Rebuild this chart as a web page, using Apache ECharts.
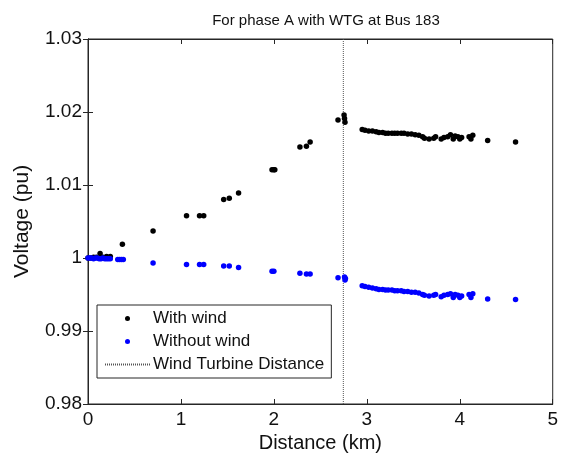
<!DOCTYPE html>
<html>
<head>
<meta charset="utf-8">
<script src="https://cdn.jsdelivr.net/npm/echarts@6/dist/echarts.min.js"></script>
<style>html,body{margin:0;padding:0;background:#fff}#c{width:561px;height:459px}</style>
</head>
<body>
<div id="c"></div>
<script>
var titleText = 'For phase A with WTG at Bus 183';
var xTicks = [0, 1, 2, 3, 4, 5];
var yTicks = [0.98, 0.99, 1, 1.01, 1.02, 1.03];
var turbineDistance = 2.747;

var withWindDist = [0, 0.03, 0.06, 0.09, 0.13, 0.16, 0.2, 0.24, 0.37,
  0.70, 1.06, 1.20, 1.245, 1.46, 1.52, 1.62, 1.98, 2.0, 2.01,
  2.28, 2.35, 2.39, 2.69, 2.755, 2.76, 2.765,
  2.95, 2.98, 3.02, 3.06, 3.10, 3.13, 3.17, 3.20, 3.23, 3.27, 3.30, 3.33, 3.37, 3.40, 3.44, 3.48, 3.52, 3.56,
  3.60, 3.62, 3.67, 3.72, 3.74, 3.80, 3.83, 3.87, 3.90, 3.93, 3.95, 3.98, 4.00, 4.02, 4.10, 4.12, 4.14,
  4.30, 4.60];
var withWindV = [1.0000, 1.0000, 1.0001, 1.0001, 1.0006, 1.0001, 1.0002, 1.0002, 1.0019,
  1.0037, 1.0058, 1.0058, 1.0058, 1.0080, 1.0082, 1.0089, 1.0121, 1.0121, 1.0121,
  1.0152, 1.0153, 1.0159, 1.0189, 1.0196, 1.0191, 1.0186,
  1.0176, 1.0175, 1.0174, 1.0174, 1.0173, 1.0172, 1.0172, 1.0171, 1.0171, 1.0171, 1.0171, 1.0171, 1.0171, 1.0171, 1.0170, 1.0170, 1.0169, 1.0168,
  1.0166, 1.0164, 1.0163, 1.0164, 1.0166, 1.0163, 1.0165, 1.0166, 1.0169, 1.0163, 1.0167, 1.0166, 1.0163, 1.0165, 1.0166, 1.0163, 1.0168,
  1.0161, 1.0159];

var withoutWindDist = [0, 0.02, 0.04, 0.06, 0.08, 0.10, 0.12, 0.14, 0.16, 0.18, 0.20, 0.22, 0.24, 0.32, 0.34, 0.36, 0.38,
  0.70, 1.06, 1.20, 1.245, 1.46, 1.52, 1.62, 1.98, 2.0,
  2.28, 2.35, 2.39, 2.69, 2.76, 2.77, 2.765,
  2.95, 2.98, 3.02, 3.06, 3.10, 3.13, 3.17, 3.20, 3.23, 3.27, 3.30, 3.33, 3.37, 3.40, 3.44, 3.48, 3.52, 3.56,
  3.60, 3.62, 3.67, 3.72, 3.74, 3.80, 3.83, 3.87, 3.90, 3.93, 3.95, 3.98, 4.00, 4.02, 4.10, 4.12, 4.14,
  4.30, 4.60];
var withoutWindV = [1.0000, 1.0000, 1.0000, 0.9999, 1.0000, 1.0000, 0.9999, 0.9999, 1.0000, 0.9999, 0.9999, 0.9999, 0.9999, 0.9998, 0.9998, 0.9998, 0.9998,
  0.9993, 0.9991, 0.9991, 0.9991, 0.9989, 0.9989, 0.9987, 0.9982, 0.9982,
  0.9979, 0.9978, 0.9978, 0.9973, 0.9974, 0.9972, 0.9970,
  0.9962, 0.9961, 0.9960, 0.9959, 0.9958, 0.9957, 0.9957, 0.9956, 0.9956, 0.9956, 0.9955, 0.9955, 0.9955, 0.9954, 0.9954, 0.9953, 0.9953, 0.9952,
  0.9950, 0.9949, 0.9948, 0.9949, 0.9950, 0.9947, 0.9949, 0.9950, 0.9951, 0.9946, 0.9950, 0.9949, 0.9946, 0.9948, 0.9950, 0.9946, 0.9951,
  0.9944, 0.9943];

function zip(a, b) { return a.map(function (v, i) { return [v, b[i]]; }); }

var FONT = 'Liberation Sans';
var chart = echarts.init(document.getElementById('c'), null, {renderer: 'canvas'});
var yFmt = function (v) { return String(+v.toFixed(2)); };
var commonAxisLine = {lineStyle: {color: '#262626', width: 1}};
var option = {
  animation: false,
  backgroundColor: '#fff',
  title: {
    text: titleText, left: 321, top: 8, textAlign: 'center',
    textStyle: {fontFamily: FONT, fontSize: 15, fontWeight: 'normal', color: '#111'}
  },
  grid: {left: 88, right: 7, top: 39, bottom: 55, show: true, borderColor: '#262626', borderWidth: 1, backgroundColor: '#fff'},
  legend: {
    orient: 'vertical', left: 97, top: 305,
    backgroundColor: '#fff', borderColor: '#262626', borderWidth: 1, borderRadius: 0,
    padding: [5, 7, 5, 7], itemWidth: 45, itemHeight: 5, itemGap: 6,
    textStyle: {fontFamily: FONT, fontSize: 17, color: '#111', padding: [0, 0, 0, -2]},
    data: [
      {name: 'With wind', icon: 'circle'},
      {name: 'Without wind', icon: 'circle'},
      {name: 'Wind Turbine Distance', itemStyle: {opacity: 0}}
    ]
  },
  xAxis: [{
    type: 'value', min: xTicks[0], max: xTicks[xTicks.length - 1], interval: 1,
    name: 'Distance (km)', nameLocation: 'middle', nameGap: 25,
    nameTextStyle: {fontFamily: FONT, fontSize: 20, color: '#111'},
    axisLine: commonAxisLine, axisTick: {inside: true, length: 5, lineStyle: {color: '#262626'}},
    axisLabel: {fontFamily: FONT, fontSize: 19, color: '#111', margin: 6},
    splitLine: {show: false}
  }, {
    type: 'value', position: 'top', min: xTicks[0], max: xTicks[xTicks.length - 1], interval: 1,
    axisLine: commonAxisLine, axisTick: {inside: true, length: 5, lineStyle: {color: '#262626'}},
    axisLabel: {show: false}, splitLine: {show: false}
  }],
  yAxis: [{
    type: 'value', min: yTicks[0], max: yTicks[yTicks.length - 1], interval: 0.01,
    name: 'Voltage (pu)', nameLocation: 'middle', nameGap: 55, nameRotate: 90,
    nameTextStyle: {fontFamily: FONT, fontSize: 21, color: '#111'},
    axisLine: commonAxisLine, axisTick: {inside: true, length: 5, lineStyle: {color: '#262626'}},
    axisLabel: {fontFamily: FONT, fontSize: 19, color: '#111', margin: 6, formatter: yFmt},
    splitLine: {show: false}
  }, {
    type: 'value', position: 'right', min: yTicks[0], max: yTicks[yTicks.length - 1], interval: 0.01,
    axisLine: commonAxisLine, axisTick: {inside: true, length: 5, lineStyle: {color: '#262626'}},
    axisLabel: {show: false}, splitLine: {show: false}
  }],
  series: [{
    name: 'With wind', type: 'scatter', symbol: 'circle', symbolSize: 5.5,
    itemStyle: {color: '#000', opacity: 1}, data: zip(withWindDist, withWindV)
  }, {
    name: 'Without wind', type: 'scatter', symbol: 'circle', symbolSize: 5.5,
    itemStyle: {color: '#0000ff', opacity: 1}, data: zip(withoutWindDist, withoutWindV)
  }, {
    name: 'Wind Turbine Distance', type: 'line', symbol: 'none', z: 1,
    lineStyle: {color: '#555', width: 1, type: [1, 1]}, itemStyle: {color: '#555'},
    data: [[turbineDistance, yTicks[0]], [turbineDistance, yTicks[yTicks.length - 1]]]
  }]
};
chart.setOption(option);
</script>
</body>
</html>
